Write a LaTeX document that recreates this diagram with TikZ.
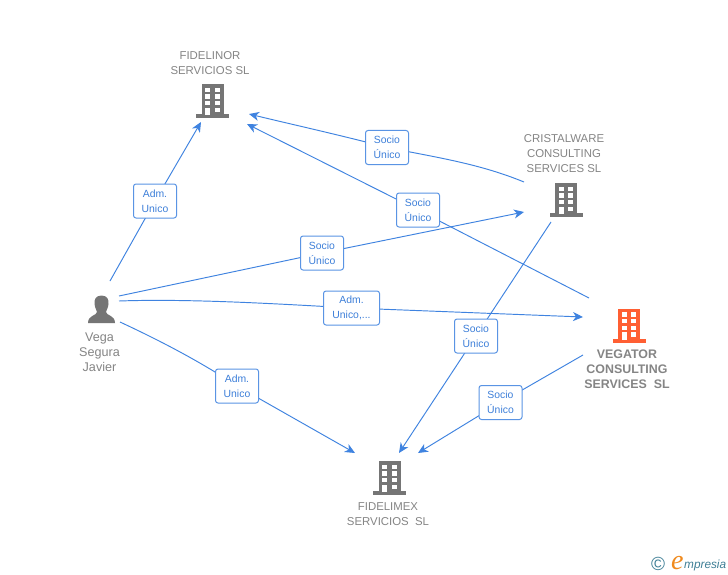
\documentclass[tikz,border=0pt]{standalone}
\usepackage{fontspec}
\setmainfont{Liberation Sans}
\newfontfamily\serifit{Liberation Serif}
\definecolor{linkblue}{HTML}{3F83E0}
\definecolor{boxblue}{HTML}{5A94E4}
\definecolor{labelblue}{HTML}{3D7FD9}
\definecolor{icongray}{HTML}{757575}
\definecolor{textgray}{HTML}{858585}
\definecolor{iconorange}{HTML}{FF5F33}
\definecolor{logoteal}{HTML}{3F7F96}
\definecolor{logoorange}{HTML}{F08A1D}
\usetikzlibrary{arrows.meta}
\tikzset{
  linkline/.style={draw=linkblue,line width=0.95pt},
  arrowlink/.style={linkline,-{Stealth[length=10pt,width=9pt,inset=3pt]}},
  relbox/.style={draw=boxblue,line width=1pt,fill=white,rounded corners=2.5pt,inner sep=0pt,
    text=labelblue,align=center,font=\fontsize{10.4}{15}\selectfont},
  entname/.style={text=textgray,align=center,inner sep=0pt,font=\fontsize{11.4}{15}\selectfont},
  pics/building/.style={code={
    \fill[#1] (-11,-17) rectangle (11,13);
    \fill[#1] (-16.5,13) rectangle (16.5,17);
    \foreach \yy in {-13.3,-6.7,0}{
      \fill[white] (-7.5,\yy) rectangle (-2.5,\yy+4.4);
      \fill[white] (2,\yy) rectangle (7,\yy+4.4);
    }
    \fill[white] (-7.5,6.7) rectangle (-2.5,14);
    \fill[white] (2,6.7) rectangle (7,11);
  }}
}
\begin{document}
\begin{tikzpicture}[x=1pt,y=-1pt]
\useasboundingbox[fill=white] (0,0) rectangle (728,575);

% icons
\pic at (212.5,101) {building=icongray};
\pic at (566,200) {building=icongray};
\pic at (629,325.5) {building=iconorange};
\pic at (389.5,478) {building=icongray};
\fill[icongray] (101.5,295.5) .. controls (107.5,295.5) and (109,300) .. (108.5,304)
  .. controls (108,308) and (106.5,310) .. (106,312)
  .. controls (106,315.5) and (115,315) .. (115,323) -- (88,323)
  .. controls (88,315) and (97,315.5) .. (97,312)
  .. controls (96.5,310) and (95,308) .. (94.5,304)
  .. controls (94,300) and (95.5,295.5) .. (101.5,295.5) -- cycle;

% names
\node[entname] (fidelinor) at (210,63) {FIDELINOR\\SERVICIOS SL};
\node[entname] (cristalware) at (564,154) {CRISTALWARE\\CONSULTING\\SERVICES SL};
\node[entname,font=\fontsize{12.4}{15}\selectfont\bfseries] (vegator) at (627,369) {VEGATOR\\CONSULTING\\SERVICES\ \ SL};
\node[entname] (fidelimex) at (388,514.5) {FIDELIMEX\\SERVICIOS\ \ SL};
\node[entname,font=\fontsize{12.6}{15}\selectfont] (vega) at (99.5,352) {Vega\\Segura\\Javier};

% connector ends
\coordinate (vF) at (110,281);
\coordinate (vC) at (119,296);
\coordinate (vV) at (119,301);
\coordinate (vX) at (120,322);
\coordinate (fA) at (201,122);
\coordinate (fB) at (249,114);
\coordinate (fC) at (247,124);
\coordinate (cIn) at (524,212);
\coordinate (cOutF) at (524,182);
\coordinate (cOutX) at (551,222);
\coordinate (gIn) at (583,317);
\coordinate (gOutF) at (589,298);
\coordinate (gOutX) at (583,355);
\coordinate (xA) at (355,453);
\coordinate (xB) at (399,453);
\coordinate (xC) at (418,453);

% labels
\coordinate (l1) at (155,201);
\coordinate (l2) at (322,253);
\coordinate (l3) at (351.5,308);
\coordinate (l4) at (237,386);
\coordinate (l5) at (387,147.5);
\coordinate (l6) at (418,210);
\coordinate (l7) at (476,336);
\coordinate (l8) at (500.5,402.5);

% connectors
\draw[arrowlink] (vF) -- (l1) -- (fA);
\draw[arrowlink] (vC) -- (l2) -- (cIn);
\draw[arrowlink] (vV) .. controls (190,298.5) and (280,304) .. (l3) -- (gIn);
\draw[arrowlink] (vX) .. controls (150,336) and (195,358) .. (l4) -- (xA);
\draw[arrowlink] (cOutF) .. controls (480,164) and (440,158) .. (l5) .. controls (340,135) and (290,124) .. (fB);
\draw[arrowlink] (gOutF) -- (l6) -- (fC);
\draw[arrowlink] (cOutX) -- (l7) -- (xB);
\draw[arrowlink] (gOutX) -- (l8) -- (xC);

% label boxes
\node[relbox,minimum width=43pt,minimum height=34pt] (b1) at (l1) {Adm.\\Unico};
\node[relbox,minimum width=43pt,minimum height=34pt] (b2) at (l2) {Socio\\Único};
\node[relbox,minimum width=56pt,minimum height=34pt] (b3) at (l3) {Adm.\\Unico,...};
\node[relbox,minimum width=43pt,minimum height=34pt] (b4) at (l4) {Adm.\\Unico};
\node[relbox,minimum width=43pt,minimum height=34pt] (b5) at (l5) {Socio\\Único};
\node[relbox,minimum width=43pt,minimum height=34pt] (b6) at (l6) {Socio\\Único};
\node[relbox,minimum width=43pt,minimum height=34pt] (b7) at (l7) {Socio\\Único};
\node[relbox,minimum width=43pt,minimum height=34pt] (b8) at (l8) {Socio\\Único};

% logo
\node[inner sep=0pt,text=logoteal,font=\fontsize{19}{19}\selectfont] (copy) at (658,563.5) {©};
\node[inner sep=0pt,anchor=base west,text=logoorange,font=\serifit\itshape\fontsize{28}{28}\selectfont] (logoe) at (671,569) {e};
\node[inner sep=0pt,anchor=base west,text=logoteal,font=\itshape\fontsize{11.8}{14}\selectfont] (logot) at (684,568) {mpresia};
\end{tikzpicture}
\end{document}
